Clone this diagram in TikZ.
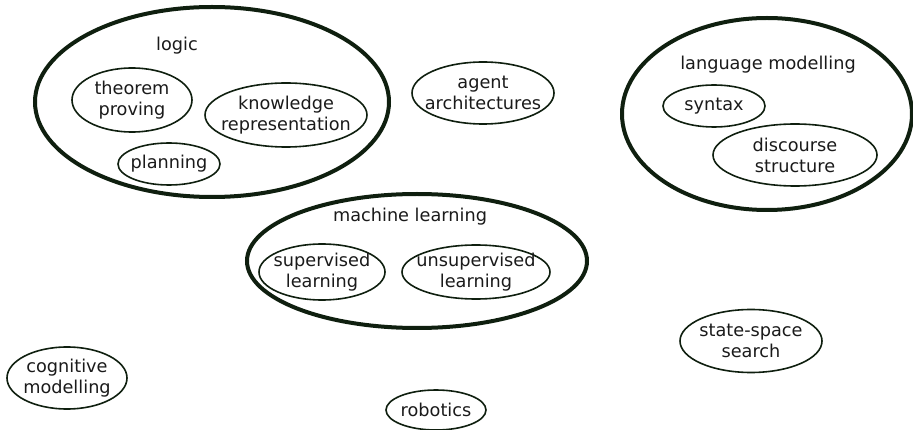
\documentclass[tikz,border=0pt]{standalone}
\usepackage{fontspec}
\setmainfont{DejaVu Sans}
\usetikzlibrary{shapes.geometric}
\definecolor{edgecol}{HTML}{0F1F0F}
\definecolor{txtcol}{HTML}{1A1A1A}
\tikzset{
  outerset/.style={ellipse, draw=edgecol, line width=4pt, inner sep=0pt},
  innerset/.style={ellipse, draw=edgecol, line width=1.6pt, inner sep=0pt},
  inlabel/.style={label={[text=txtcol, inner sep=0pt, align=center, font=\fontsize{17.7}{21}\selectfont]center:#1}},
  settitle/.style={text=txtcol, inner sep=0pt, font=\fontsize{17.7}{21}\selectfont}
}
\begin{document}
\begin{tikzpicture}[x=1pt,y=-1pt]
\useasboundingbox (0,0) rectangle (913,430);
% logic
\node[outerset, minimum width=354pt, minimum height=190pt] (logic) at (212,102) {};
\node[settitle] (logiclbl) at (177,46) {logic};
\node[innerset, minimum width=120pt, minimum height=64pt, inlabel={theorem\\proving}] (theorem) at (132,100) {};
\node[innerset, minimum width=162pt, minimum height=64pt, inlabel={knowledge\\representation}] (knowledge) at (286,115) {};
\node[innerset, minimum width=102pt, minimum height=42pt, inlabel={planning}] (planning) at (169,164) {};
% agent
\node[innerset, minimum width=142pt, minimum height=62pt, inlabel={agent\\architectures}] (agent) at (483,93) {};
% language modelling
\node[outerset, minimum width=290pt, minimum height=192pt] (lang) at (767,114) {};
\node[settitle] (langlbl) at (768,65) {language modelling};
\node[innerset, minimum width=102pt, minimum height=42pt, inlabel={syntax}] (syntax) at (714,106) {};
\node[innerset, minimum width=164pt, minimum height=62pt, inlabel={discourse\\structure}] (discourse) at (795,155) {};
% machine learning
\node[outerset, minimum width=340pt, minimum height=134pt] (ml) at (417,261) {};
\node[settitle] (mllbl) at (410,217) {machine learning};
\node[innerset, minimum width=126pt, minimum height=56pt, inlabel={supervised\\learning}] (sup) at (322,272) {};
\node[innerset, minimum width=148pt, minimum height=54pt, inlabel={unsupervised\\learning}] (unsup) at (476,272) {};
% standalone topics
\node[innerset, minimum width=120pt, minimum height=62pt, inlabel={cognitive\\modelling}] (cog) at (67,378) {};
\node[innerset, minimum width=100pt, minimum height=40pt, inlabel={robotics}] (robotics) at (436,410) {};
\node[innerset, minimum width=142pt, minimum height=63pt, inlabel={state-space\\search}] (search) at (751,341) {};
\end{tikzpicture}
\end{document}
